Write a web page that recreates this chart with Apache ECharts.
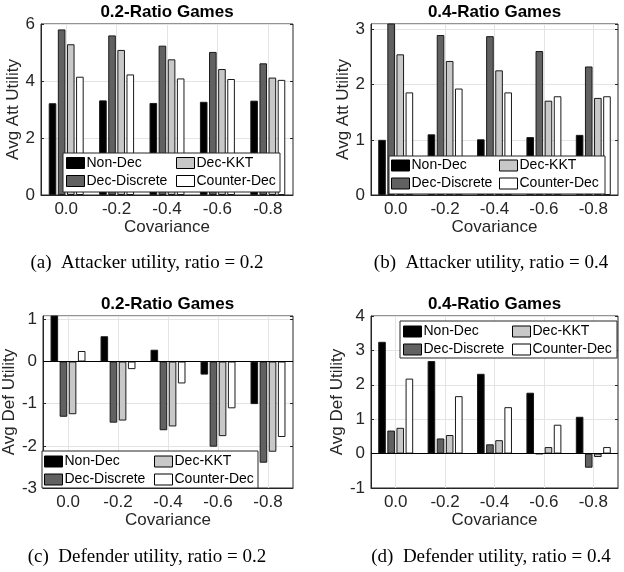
<!DOCTYPE html>
<html>
<head>
<meta charset="utf-8">
<script src="https://cdn.jsdelivr.net/npm/echarts@6/dist/echarts.min.js"></script>
<style>
  html, body { margin: 0; padding: 0; background: #fff; }
  #chart { width: 624px; height: 572px; }
</style>
</head>
<body>
<div id="chart"></div>
<script>
const covariance = ['0.0', '-0.2', '-0.4', '-0.6', '-0.8']
const methods = ['Non-Dec', 'Dec-Discrete', 'Dec-KKT', 'Counter-Dec']
const methodColors = ['#000000', '#616161', '#c8c8c8', '#ffffff']

// rows follow methods: Non-Dec, Dec-Discrete, Dec-KKT, Counter-Dec
const attUtil02 = [
  [3.22, 3.32, 3.23, 3.27, 3.31],
  [5.81, 5.60, 5.24, 5.02, 4.62],
  [5.29, 5.09, 4.76, 4.42, 4.12],
  [4.15, 4.23, 4.09, 4.07, 4.04]
]
const attUtil04 = [
  [1.00, 1.10, 1.01, 1.05, 1.09],
  [3.25, 2.90, 2.88, 2.61, 2.33],
  [2.55, 2.43, 2.26, 1.71, 1.76],
  [1.86, 1.93, 1.86, 1.79, 1.79]
]
const defUtil02 = [
  [1.15, 0.60, 0.28, -0.31, -1.01],
  [-1.31, -1.45, -1.63, -2.02, -2.40],
  [-1.25, -1.40, -1.54, -1.77, -2.14],
  [0.25, -0.18, -0.52, -1.11, -1.79]
]
const defUtil04 = [
  [3.25, 2.69, 2.32, 1.77, 1.07],
  [0.67, 0.44, 0.27, -0.01, -0.41],
  [0.75, 0.54, 0.39, 0.19, -0.10],
  [2.18, 1.67, 1.35, 0.84, 0.19]
]

const axisColor = '#262626'
const gridColor = '#e4e4e4'
const fontFamily = '"Liberation Sans", Arial, sans-serif'

// one entry per subplot
const panels = [
  { data: attUtil02, title: '0.2-Ratio Games', yName: 'Avg Att Utility', caption: '(a)  Attacker utility, ratio = 0.2',
    grid: { left: 41, top: 24, width: 252, height: 171 }, y: { min: 0, max: 6, interval: 2 },
    legendBox: [63, 153, 217, 39], legendCols: [66, 176], legendTop: 156, zeroLine: false },
  { data: attUtil04, title: '0.4-Ratio Games', yName: 'Avg Att Utility', caption: '(b)  Attacker utility, ratio = 0.4',
    grid: { left: 371, top: 24, width: 247, height: 171 }, y: { min: 0, max: 3.1, interval: 1 },
    legendBox: [389, 156, 216, 38], legendCols: [391, 499], legendTop: 158.5, zeroLine: false },
  { data: defUtil02, title: '0.2-Ratio Games', yName: 'Avg Def Utility', caption: '(c)  Defender utility, ratio = 0.2',
    grid: { left: 42, top: 316, width: 251, height: 172 }, y: { min: -3, max: 1.08, interval: 1 },
    legendBox: [42, 451, 216, 37], legendCols: [44, 154], legendTop: 454.5, zeroLine: true },
  { data: defUtil04, title: '0.4-Ratio Games', yName: 'Avg Def Utility', caption: '(d)  Defender utility, ratio = 0.4',
    grid: { left: 371, top: 316, width: 247, height: 172 }, y: { min: -1, max: 4, interval: 1 },
    legendBox: [400, 321, 217, 37], legendCols: [403, 512], legendTop: 324.5, zeroLine: true }
]

const chart = echarts.init(document.getElementById('chart'), null, { renderer: 'canvas' })

const grid = []
const xAxis = []
const yAxis = []
const series = []
const legend = []
const graphic = []
const boxAxesX = []
const boxAxesY = []

panels.forEach((p, i) => {
  grid.push(Object.assign({ show: true, borderColor: axisColor, borderWidth: 1, backgroundColor: 'transparent' }, p.grid))

  xAxis.push({
    type: 'category',
    gridIndex: i,
    data: covariance,
    name: 'Covariance',
    nameLocation: 'middle',
    nameGap: 24,
    nameTextStyle: { fontSize: 17, color: axisColor, fontFamily },
    axisLine: { onZero: false, lineStyle: { color: axisColor } },
    axisTick: { inside: true, alignWithLabel: true, length: 3, lineStyle: { color: axisColor } },
    axisLabel: { fontSize: 17, color: axisColor, margin: 6, fontFamily },
    splitLine: { show: true, alignWithLabel: true, lineStyle: { color: gridColor } }
  })

  yAxis.push({
    type: 'value',
    gridIndex: i,
    min: p.y.min,
    max: p.y.max,
    interval: p.y.interval,
    name: p.yName,
    nameLocation: 'middle',
    nameGap: 16,
    nameTextStyle: { fontSize: 17, color: axisColor, fontFamily },
    axisLine: { show: true, lineStyle: { color: axisColor } },
    axisTick: { show: true, inside: true, length: 3, lineStyle: { color: axisColor } },
    axisLabel: { fontSize: 17, color: axisColor, margin: 6, fontFamily, showMaxLabel: p.y.max % 1 === 0 },
    splitLine: { show: true, lineStyle: { color: gridColor } }
  })

  // top and right edges of the box only carry inward ticks
  boxAxesX.push({
    type: 'category', gridIndex: i, position: 'top', data: covariance,
    axisLine: { show: false },
    axisTick: { inside: true, alignWithLabel: true, length: 3, lineStyle: { color: axisColor } },
    axisLabel: { show: false }, splitLine: { show: false }
  })
  boxAxesY.push({
    type: 'value', gridIndex: i, position: 'right',
    min: p.y.min, max: p.y.max, interval: p.y.interval,
    axisLine: { show: false },
    axisTick: { show: true, inside: true, length: 3, lineStyle: { color: axisColor } },
    axisLabel: { show: false, showMaxLabel: p.y.max % 1 === 0 }, splitLine: { show: false }
  })

  methods.forEach((m, k) => {
    const s = {
      type: 'bar',
      name: m,
      xAxisIndex: i,
      yAxisIndex: i,
      data: p.data[k],
      barWidth: 7.6,
      barGap: '20%',
      itemStyle: { color: methodColors[k], borderColor: '#1a1a1a', borderWidth: 1 },
      animation: false
    }
    if (p.zeroLine && k === 0) {
      s.markLine = {
        silent: true,
        symbol: ['none', 'none'],
        label: { show: false },
        lineStyle: { color: '#000', width: 1, type: 'solid' },
        data: [{ yAxis: 0 }],
        animation: false
      }
    }
    series.push(s)
  })

  // legend: two columns, boxed
  const legendCommon = {
    orient: 'vertical',
    top: p.legendTop,
    padding: 0,
    itemGap: 4,
    itemWidth: 18,
    itemHeight: 11,
    icon: 'rect',
    selectedMode: false,
    itemStyle: { borderColor: '#000', borderWidth: 1 },
    textStyle: { fontSize: 14, color: '#000', fontFamily, padding: [0, 0, 0, -3] }
  }
  legend.push(Object.assign({ left: p.legendCols[0], data: [methods[0], methods[1]] }, legendCommon))
  legend.push(Object.assign({ left: p.legendCols[1], data: [methods[2], methods[3]] }, legendCommon))

  const b = p.legendBox
  graphic.push({
    type: 'rect', z: 3,
    shape: { x: b[0], y: b[1], width: b[2], height: b[3] },
    style: { fill: '#fff', stroke: axisColor, lineWidth: 1 }
  })

  const cx = p.grid.left + p.grid.width / 2
  graphic.push({
    type: 'text', z: 5,
    x: cx, y: p.grid.top - 12,
    style: { text: p.title, align: 'center', verticalAlign: 'middle', fontSize: 17, fontWeight: 'bold', fontFamily, fill: '#000' }
  })
  graphic.push({
    type: 'text', z: 5,
    x: i % 2 === 0 ? 147 : 491, y: i < 2 ? 263 : 557,
    style: { text: p.caption, align: 'center', verticalAlign: 'middle', fontSize: 19, fontFamily: '"Liberation Serif", "Times New Roman", serif', fill: '#000' }
  })
})

chart.setOption({
  animation: false,
  backgroundColor: '#fff',
  grid,
  xAxis: xAxis.concat(boxAxesX),
  yAxis: yAxis.concat(boxAxesY),
  series,
  legend,
  graphic: { elements: graphic }
})
</script>
</body>
</html>
